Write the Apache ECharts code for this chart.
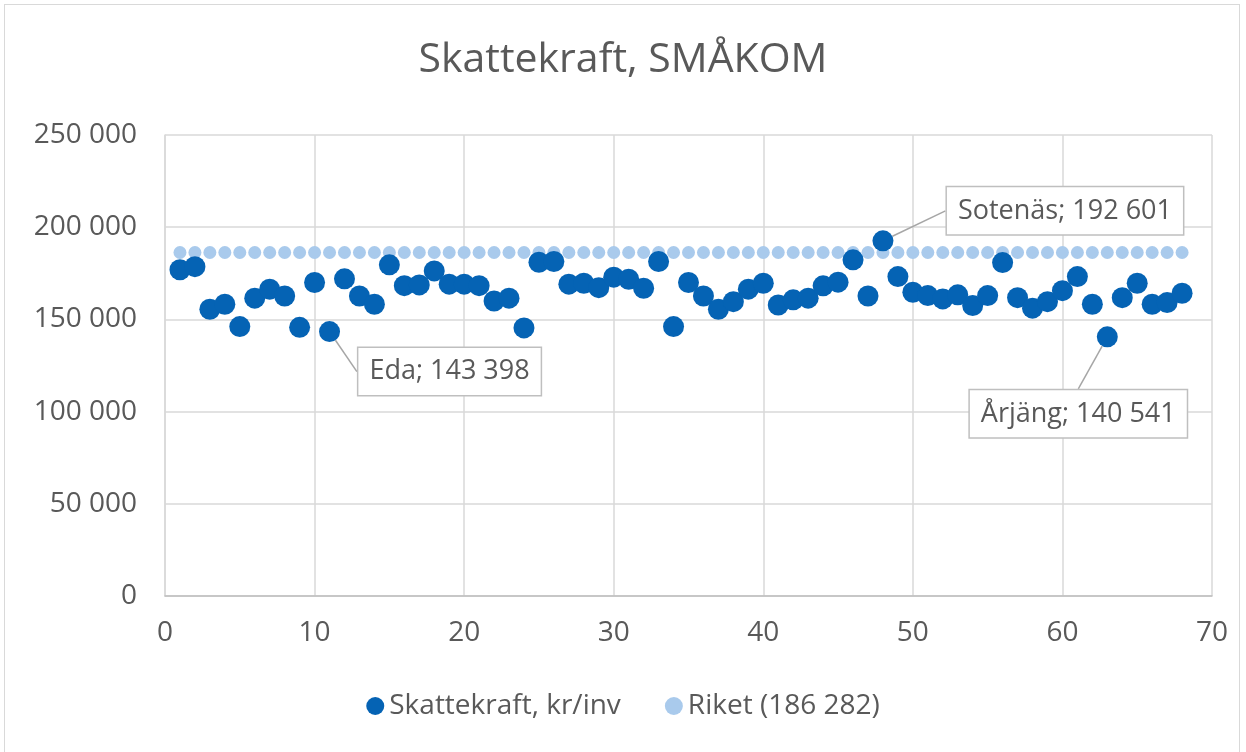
<!DOCTYPE html>
<html><head><meta charset="utf-8">
<script src="https://cdn.jsdelivr.net/npm/echarts@6/dist/echarts.min.js"></script>
<style>
html,body{margin:0;padding:0;background:#fff;}
#frame{position:absolute;left:4px;top:4px;width:1236px;height:760px;border:1.5px solid #D9D9D9;box-sizing:border-box;}
#c{position:absolute;left:0;top:0;width:1246px;height:752px;}
</style>
</head><body>
<div id="frame"></div>
<div id="c"></div>
<script>
const title = 'Skattekraft, SMÅKOM';
const seriesNames = ['Skattekraft, kr/inv', 'Riket (186 282)'];
const skattekraft = [
 176900,178600,155500,158200,146100,161500,166400,162700,145700,170000,
 143398,172000,162700,158200,179600,168300,168700,176300,169100,169100,
 168300,160000,161500,145400,181000,181400,169100,169600,167200,172900,
 171800,166900,181400,146100,170000,162700,155500,159600,166400,169600,
 157800,160600,161500,168200,170200,182300,162700,192601,173200,164700,
 162900,161100,163300,157500,162900,180800,161800,156100,159600,165600,
 173200,158200,140541,161800,169600,158200,159100,164200];
const riket = 186282;
const labelled = {11: 'Eda', 48: 'Sotenäs', 63: 'Årjäng'};
const labelOffsets = {11: [120, 40], 48: [182, -30], 63: [-29, 77]};
const yTicks = [0, 50000, 100000, 150000, 200000, 250000];
const xTicks = [0, 10, 20, 30, 40, 50, 60, 70];

const fmt = v => String(Math.round(v)).replace(/\B(?=(\d{3})+(?!\d))/g, ' ');
const FONT = '"Open Sans", Lato, sans-serif';
const TXT = '#595959';

const mainData = skattekraft.map((v, i) => {
  const n = i + 1;
  const item = {value: [n, v]};
  if (labelled[n]) {
    item.label = {
      show: true, position: 'inside',
      formatter: labelled[n] + '; ' + fmt(v),
      fontFamily: FONT, fontSize: 27, color: TXT, lineHeight: 34,
      backgroundColor: '#fff', borderColor: '#BFBFBF', borderWidth: 1.5,
      padding: [7, 11, 6, 11]
    };
    item.labelLine = {show: true, lineStyle: {color: '#A6A6A6', width: 1.5}};
  }
  return item;
});
const riketData = skattekraft.map((v, i) => [i + 1, riket]);

const chart = echarts.init(document.getElementById('c'), null, {renderer: 'canvas'});
chart.setOption({
  backgroundColor: 'transparent',
  animation: false,
  title: {text: title, left: 'center', top: 35,
    textStyle: {fontFamily: FONT, fontSize: 41, fontWeight: 'normal', color: TXT}},
  grid: {left: 165, right: 34, top: 135, bottom: 156, containLabel: false},
  xAxis: {type: 'value', min: xTicks[0], max: xTicks[xTicks.length - 1], interval: 10,
    axisLine: {show: true, lineStyle: {color: '#BFBFBF', width: 1.5}},
    axisTick: {show: false},
    axisLabel: {fontFamily: FONT, fontSize: 28, color: TXT, margin: 23},
    splitLine: {show: true, lineStyle: {color: '#D9D9D9', width: 1.5}}},
  yAxis: {type: 'value', min: yTicks[0], max: yTicks[yTicks.length - 1], interval: 50000,
    axisLine: {show: true, lineStyle: {color: '#D9D9D9', width: 1.5}},
    axisTick: {show: false},
    axisLabel: {fontFamily: FONT, fontSize: 28, color: TXT, margin: 28, formatter: v => fmt(v)},
    splitLine: {show: true, lineStyle: {color: '#D9D9D9', width: 1.5}}},
  legend: {bottom: 27, left: 'center', itemGap: 44, itemWidth: 18, itemHeight: 18,
    textStyle: {fontFamily: FONT, fontSize: 28, color: TXT},
    data: [{name: seriesNames[0], icon: 'circle'}, {name: seriesNames[1], icon: 'circle'}]},
  series: [
    {name: seriesNames[1], type: 'scatter', data: riketData, symbolSize: 13,
      itemStyle: {color: '#A9CAEC', opacity: 1}, z: 1},
    {name: seriesNames[0], type: 'scatter', data: mainData, symbolSize: 21,
      itemStyle: {color: '#0563B4', opacity: 1}, z: 2,
      labelLayout: function (p) {
        const n = p.dataIndex + 1;
        const o = labelOffsets[n];
        if (!o) return {};
        return {dx: o[0], dy: o[1]};
      }}
  ]
});
</script>
</body></html>
